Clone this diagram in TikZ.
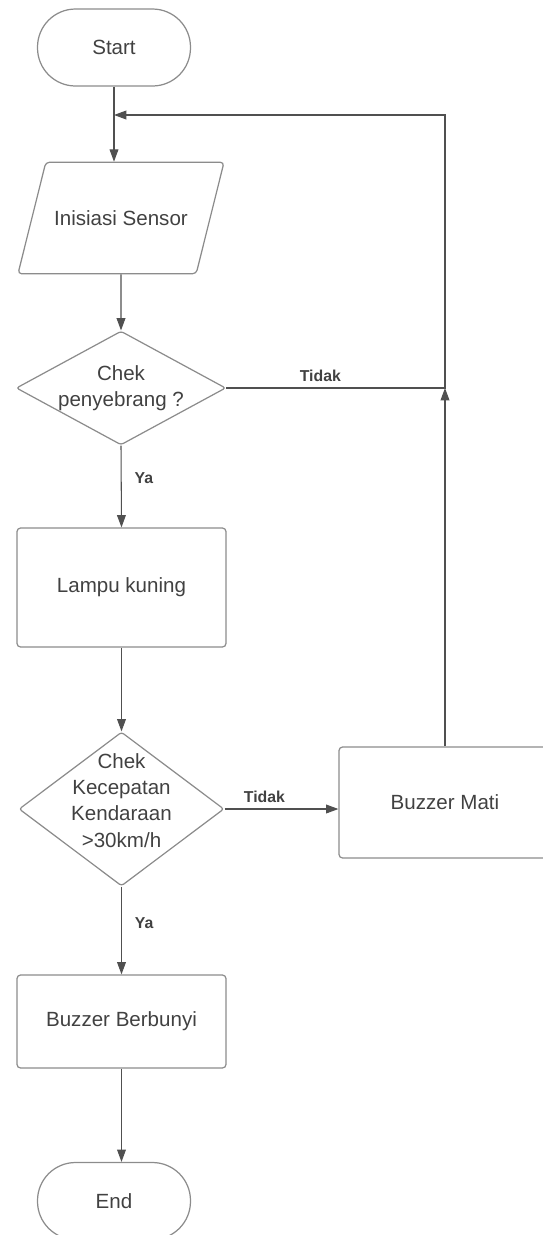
\documentclass[tikz,border=0pt]{standalone}
\usepackage{fontspec}
\setmainfont{Liberation Sans}
\usetikzlibrary{shapes.geometric,arrows.meta}
\definecolor{teks}{RGB}{65,65,65}
\definecolor{garis}{RGB}{140,140,140}
\definecolor{panah}{RGB}{80,80,80}

\begin{document}
\begin{tikzpicture}[x=0.02cm, y=-0.02cm,
            every node/.style={text=teks, font=\fontsize{11.7}{15}\selectfont},
            ujung/.style={draw=garis, line width=0.7pt, rounded corners=0.76cm, minimum width=3.06cm, minimum height=1.54cm},
            kotak/.style={draw=garis, line width=0.7pt, rounded corners=2pt, minimum width=4.18cm},
            jajar/.style={draw=garis, line width=0.7pt, rounded corners=2pt, trapezium, trapezium left angle=76, trapezium right angle=104, trapezium stretches body, text height=8.6pt, text depth=0pt, inner ysep=27.4pt, minimum width=4.12cm},
            belah/.style={draw=garis, line width=0.7pt, rounded corners=1.5pt, diamond, inner sep=0pt},
            alur/.style={draw=panah, line width=0.6pt, -{Triangle[length=7pt,width=5pt]}},
            ket/.style={font=\bfseries\fontsize{9}{11}\selectfont}]
            \useasboundingbox (0,0) rectangle (543,1235);

            \node[ujung] (start) at (114,47.5) {Start};
            \node[jajar] (init) at (121,218) {Inisiasi Sensor};
            \node[belah, shape aspect=1.84, minimum width=4.08cm, minimum height=2.22cm, align=center] (cek1) at (121,388) {Chek\\penyebrang ?};
            \node[kotak, minimum height=2.38cm] (lampu) at (121.5,587.5) {Lampu kuning};
            \node[belah, minimum width=4.1cm, minimum height=3.08cm, label={[align=center, yshift=5pt]center:Chek\\Kecepatan\\Kendaraan\\>30km/h}] (cek2) at (121.5,809) {};
            \node[kotak, minimum width=4.24cm, minimum height=2.22cm] (mati) at (445,802.5) {Buzzer Mati};
            \node[kotak, minimum height=1.86cm] (bunyi) at (121.5,1021.5) {Buzzer Berbunyi};
            \node[ujung] (end) at (114,1201) {End};

            \coordinate (temu) at (mati.north |- cek1.east);
            \coordinate (masuk) at (114,115);

            \draw[alur] (start.south) -- (start.south |- init.north);
            \draw[alur] (init.south) -- (cek1.north);
            \draw[alur] (cek1.south) -- node[ket, right, pos=0.4, xshift=4pt] {Ya} (lampu.north);
            \draw[alur] (cek1.east) -- node[ket, above, pos=0.43] {Tidak} (temu) |- (masuk);
            \draw[alur] (mati.north) -- (temu);
            \draw[alur] (lampu.south) -- (cek2.north);
            \draw[alur] (cek2.east) -- node[ket, above, pos=0.35] {Tidak} (cek2.east -| mati.west);
            \draw[alur] (cek2.south) -- node[ket, right, pos=0.42, xshift=4pt] {Ya} (bunyi.north);
            \draw[alur] (bunyi.south) -- (bunyi.south |- end.north);
\end{tikzpicture}
\end{document}
